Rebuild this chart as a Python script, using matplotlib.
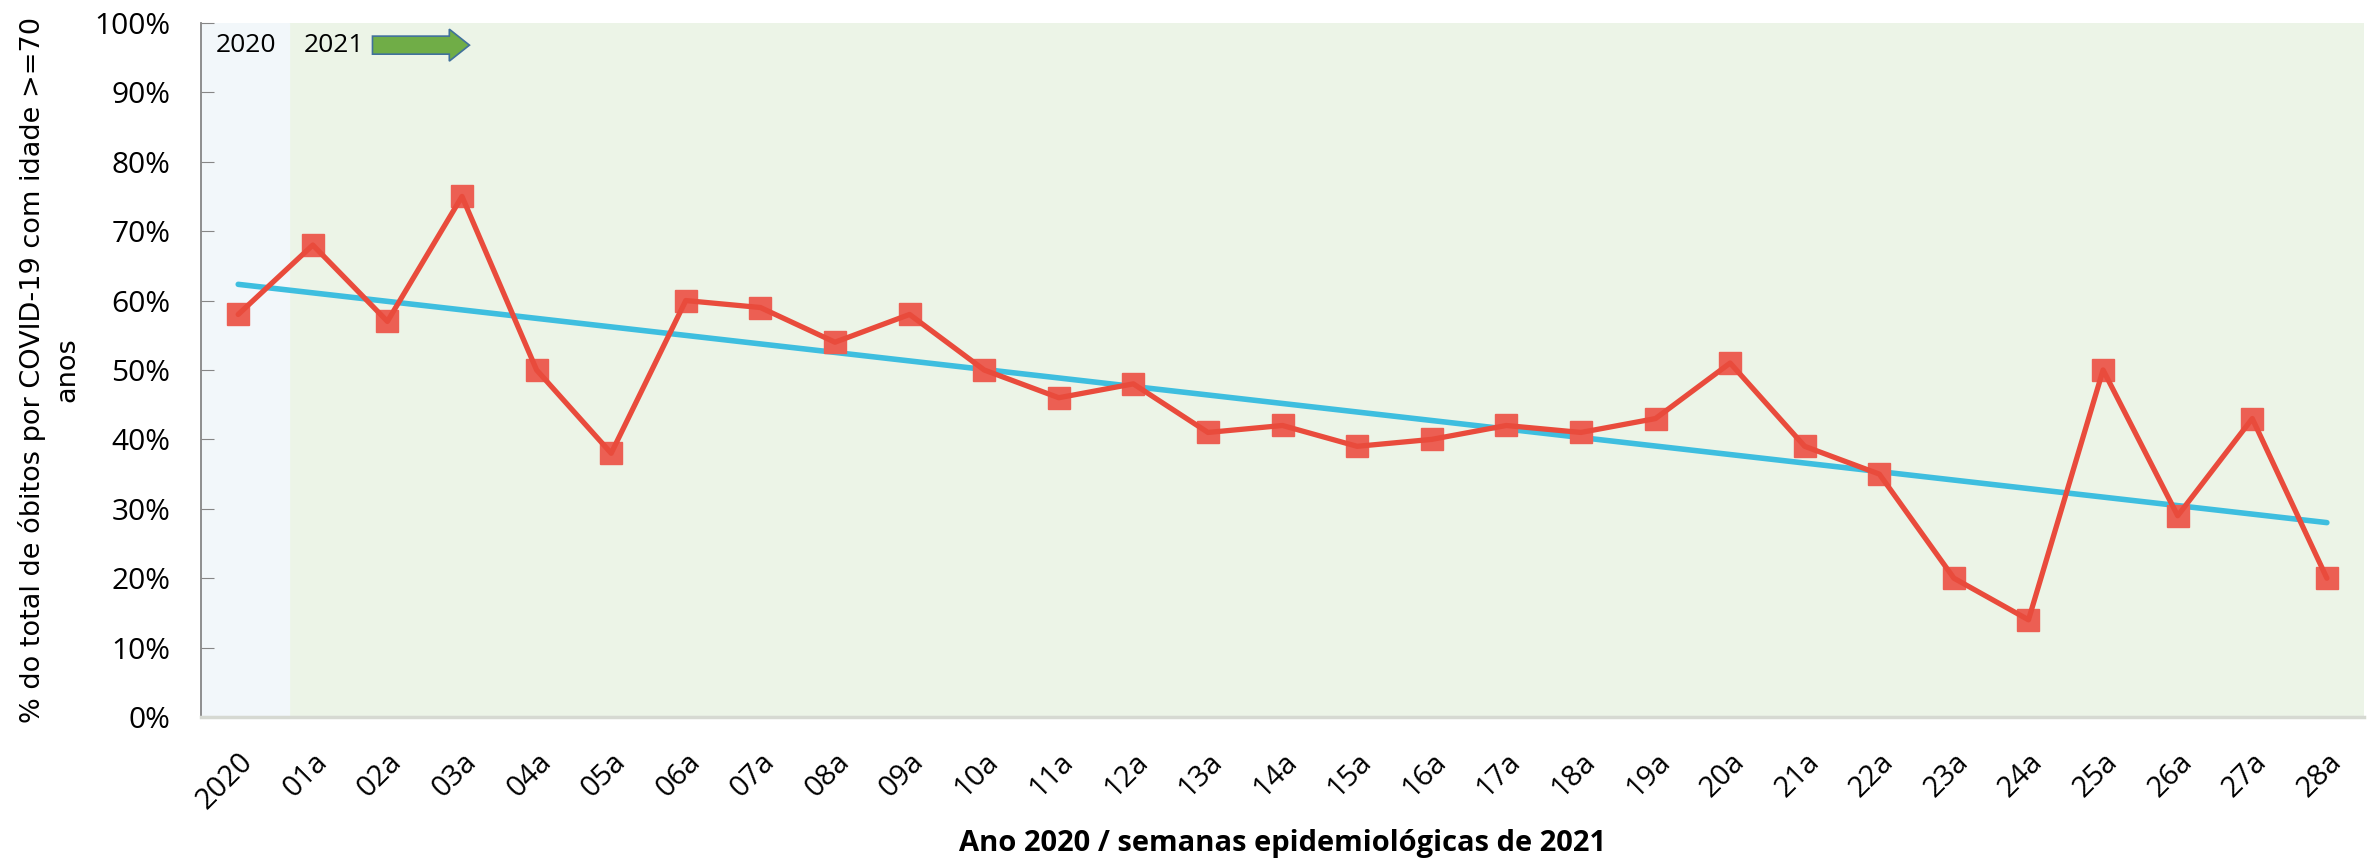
import matplotlib
matplotlib.use("Agg")
import matplotlib.pyplot as plt
import matplotlib.patches as mpatches
import numpy as np

weeks = ["2020", "01a", "02a", "03a", "04a", "05a", "06a", "07a", "08a", "09a",
         "10a", "11a", "12a", "13a", "14a", "15a", "16a", "17a", "18a", "19a",
         "20a", "21a", "22a", "23a", "24a", "25a", "26a", "27a", "28a"]
pct_70plus = [58, 68, 57, 75, 50, 38, 60, 59, 54, 58,
              50, 46, 48, 41, 42, 39, 40, 42, 41, 43,
              51, 39, 35, 20, 14, 50, 29, 43, 20]
y_ticks = [0, 10, 20, 30, 40, 50, 60, 70, 80, 90, 100]

fig = plt.figure(figsize=(23.72, 8.59), dpi=100)
ax = fig.add_axes([0.0847, 0.1653, 0.912, 0.808])

x = np.arange(len(weeks))
ax.set_facecolor("#ECF4E7")
ax.axvspan(-0.5, 0.68, color="#F2F7FA", zorder=0)

# trend line (linear fit of the series)
coef = np.polyfit(x, pct_70plus, 1)
ax.plot(x, np.polyval(coef, x), color="#3EBEDF", lw=4.0, solid_capstyle="round", zorder=2)

ax.plot(x, pct_70plus, linestyle="none", marker="s", markersize=15.5,
        color="#EC5F53", markeredgecolor="#EC5F53", zorder=3)
ax.plot(x, pct_70plus, color="#E94B3C", lw=3.8, solid_capstyle="round", zorder=4)

ax.set_xlim(-0.5, len(weeks) - 0.5)
ax.set_ylim(0, 100)
ax.set_yticks(y_ticks)
ax.set_yticklabels([f"{v}%" for v in y_ticks], fontsize=21.5, family="Open Sans")
ax.set_xticks(x)
ax.set_xticklabels(weeks, rotation=45, ha="right", rotation_mode="anchor",
                   fontsize=21, family="Open Sans")
ax.tick_params(axis="x", length=0, pad=22)
ax.tick_params(axis="y", direction="in", length=9, color="#868686", pad=22)

for s in ["top", "right"]:
    ax.spines[s].set_visible(False)
ax.spines["left"].set_color("#868686")
ax.spines["left"].set_linewidth(1.3)
ax.spines["bottom"].set_color("#D6D9D2")
ax.spines["bottom"].set_linewidth(2.5)

ax.set_ylabel("% do total de óbitos por COVID-19 com idade >=70\nanos",
              fontsize=19.5, family="DejaVu Sans", labelpad=10, linespacing=1.4)
ax.set_xlabel("Ano 2020 / semanas epidemiológicas de 2021", fontsize=21,
              fontweight="bold", family="Open Sans", labelpad=10)

ax.text(0.1, 96.8, "2020", fontsize=19, ha="center", va="center", family="Open Sans")
ax.text(1.28, 96.8, "2021", fontsize=19, ha="center", va="center", family="Open Sans")
arrow = mpatches.FancyArrow(1.8, 96.8, 1.3, 0, width=2.6, head_width=4.6,
                            head_length=0.27, length_includes_head=True,
                            facecolor="#70AD47", edgecolor="#41719C", lw=1.2, zorder=5)
ax.add_patch(arrow)

fig.savefig("out.png", dpi=100)
